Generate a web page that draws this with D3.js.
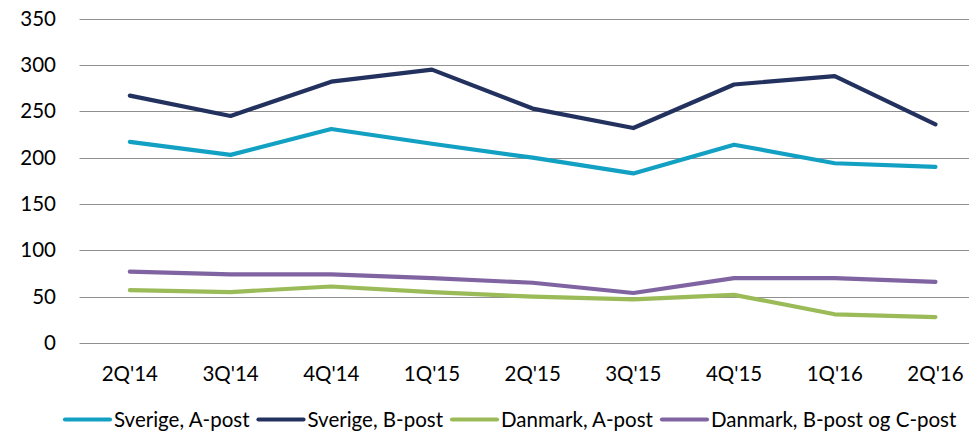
<!DOCTYPE html>
<html>
<head>
<meta charset="utf-8">
<script src="https://cdn.jsdelivr.net/npm/d3@7"></script>
<style>
  html, body { margin: 0; padding: 0; background: #fff; }
  svg { display: block; }
  text { font-family: Lato, "Open Sans", sans-serif; fill: #000; }
</style>
</head>
<body>
<svg id="chart" width="971" height="432"></svg>
<script>
const categories = ["2Q'14", "3Q'14", "4Q'14", "1Q'15", "2Q'15", "3Q'15", "4Q'15", "1Q'16", "2Q'16"];
const sverigeA = [217, 203, 231, 215, 200, 183, 214, 194, 190];
const sverigeB = [267, 245, 282, 295, 253, 232, 279, 288, 236];
const danmarkA = [57, 55, 61, 55, 50, 47, 52, 31, 28];
const danmarkBC = [77, 74, 74, 70, 65, 54, 70, 70, 66];
const seriesNames = ["Sverige, A-post", "Sverige, B-post", "Danmark, A-post", "Danmark, B-post og C-post"];
const yTicks = [0, 50, 100, 150, 200, 250, 300, 350];

const colors = ["#12a0c3", "#23315f", "#9bbb59", "#8064a2"];
const series = [sverigeA, sverigeB, danmarkA, danmarkBC].map((v, i) => ({ name: seriesNames[i], values: v, color: colors[i] }));

const svg = d3.select("#chart");
const mLeft = 79.5, mRight = 985.8, mTop = 18.7, mBottom = 343;
const fontSize = 20.5;

const x = d3.scaleBand().domain(categories).range([mLeft, mRight]);
const y = d3.scaleLinear().domain([0, 350]).range([mBottom, mTop]);

// gridlines
svg.append("g").selectAll("line").data(yTicks).join("line")
  .attr("x1", mLeft).attr("x2", 969)
  .attr("y1", d => Math.round(y(d)) + 0.5).attr("y2", d => Math.round(y(d)) + 0.5)
  .attr("stroke", "#909090").attr("stroke-width", 1.2);

// y axis labels
const yAxis = d3.axisLeft(y).tickValues(yTicks).tickSize(0).tickPadding(0);
const gy = svg.append("g").attr("transform", "translate(56,0)").call(yAxis);
gy.select(".domain").remove();
gy.selectAll("text").attr("font-size", fontSize).attr("font-family", "Lato, 'Open Sans', sans-serif").attr("fill", "#000");

// x axis labels
const xAxis = d3.axisBottom(x).tickSize(0).tickPadding(0);
const gx = svg.append("g").attr("transform", "translate(0,366)").call(xAxis);
gx.select(".domain").remove();
gx.selectAll("text").attr("font-size", fontSize).attr("font-family", "Lato, 'Open Sans', sans-serif").attr("fill", "#000");

// lines
const line = d3.line()
  .x((d, i) => x(categories[i]) + x.bandwidth() / 2)
  .y(d => y(d));

svg.append("g").selectAll("path").data(series).join("path")
  .attr("d", d => line(d.values))
  .attr("fill", "none")
  .attr("stroke", d => d.color)
  .attr("stroke-width", 4.2)
  .attr("stroke-linecap", "round")
  .attr("stroke-linejoin", "round");

// legend
const legend = svg.append("g").attr("transform", "translate(0,419.5)");
let cx = 64;
series.forEach(s => {
  legend.append("line").attr("x1", cx + 1).attr("x2", cx + 46).attr("y1", 0).attr("y2", 0)
    .attr("stroke", s.color).attr("stroke-width", 4.2).attr("stroke-linecap", "round");
  const t = legend.append("text").attr("x", cx + 50).attr("y", 0).attr("dy", "0.35em")
    .attr("font-size", fontSize).text(s.name);
  cx += 50 + t.node().getComputedTextLength() + 8;
});
</script>
</body>
</html>
